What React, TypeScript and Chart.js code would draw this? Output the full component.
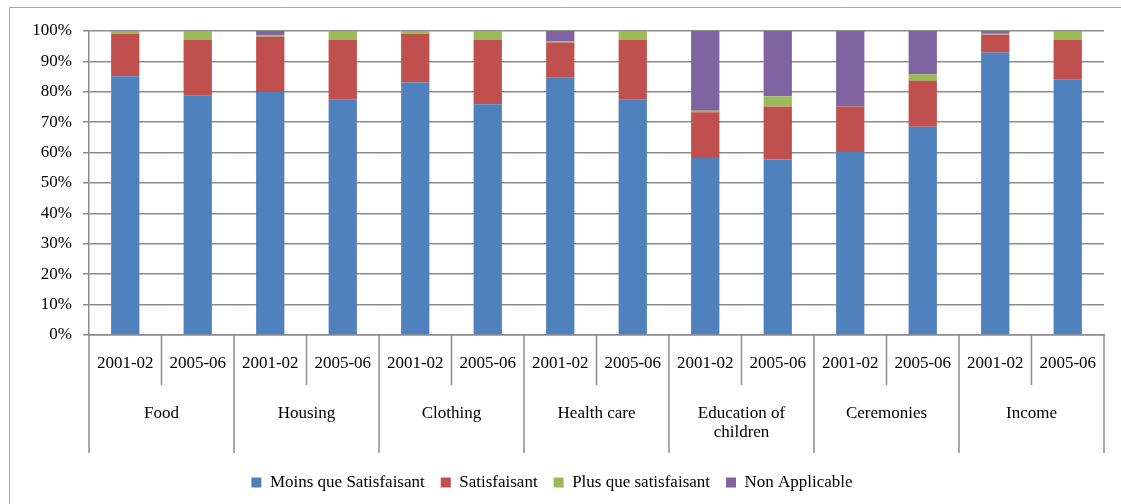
import React, { useEffect, useRef } from "react";
import { Chart, registerables } from "chart.js";

Chart.register(...registerables);

const years = ["2001-02", "2005-06", "2001-02", "2005-06", "2001-02", "2005-06", "2001-02", "2005-06", "2001-02", "2005-06", "2001-02", "2005-06", "2001-02", "2005-06"];
const groups: (string | string[])[] = ["Food", "Housing", "Clothing", "Health care", ["Education of", "children"], "Ceremonies", "Income"];

const moinsQueSatisfaisant = [85.1, 78.9, 79.9, 77.4, 83.1, 75.9, 84.6, 77.4, 58.2, 57.7, 60.2, 68.5, 92.9, 84.1];
const satisfaisant = [14.0, 18.1, 18.2, 19.6, 16.0, 21.1, 11.6, 19.6, 15.1, 17.5, 15.0, 15.1, 5.9, 12.9];
const plusQueSatisfaisant = [0.9, 3.0, 0.6, 3.0, 0.9, 3.0, 0.5, 3.0, 0.5, 3.3, 0, 2.2, 0.3, 3.0];
const nonApplicable = [0, 0, 1.3, 0, 0, 0, 3.3, 0, 26.2, 21.5, 24.8, 14.2, 0.9, 0];

const seriesNames = ["Moins que Satisfaisant", "Satisfaisant", "Plus que satisfaisant", "Non Applicable"];
const seriesColors = ["#4F81BD", "#C0504D", "#9BBB59", "#8064A2"];

const FONT = "'Liberation Serif', 'Times New Roman', serif";
const AXIS_COLOR = "#8c8c8c";

const xAxisPlugin = {
  id: "multiLevelX",
  beforeDraw(chart: any) {
    const ctx = chart.ctx;
    ctx.save();
    ctx.strokeStyle = "#a6a6a6";
    ctx.lineWidth = 1;
    ctx.beginPath();
    ctx.moveTo(9.5, 504);
    ctx.lineTo(9.5, 7.5);
    ctx.lineTo(1121, 7.5);
    ctx.stroke();
    ctx.restore();
  },
  afterDraw(chart: any) {
    const ctx = chart.ctx;
    const x = chart.scales.x;
    const area = chart.chartArea;
    const n = years.length;
    const step = (x.getPixelForValue(1) - x.getPixelForValue(0));
    const base = area.bottom;
    ctx.save();
    ctx.strokeStyle = AXIS_COLOR;
    ctx.lineWidth = 1.5;
    for (let i = 0; i <= n; i++) {
      const px = x.getPixelForValue(0) - step / 2 + i * step;
      const end = i % 2 === 0 ? base + 118 : base + 50;
      ctx.beginPath();
      ctx.moveTo(px, base);
      ctx.lineTo(px, end);
      ctx.stroke();
    }
    ctx.fillStyle = "#000";
    ctx.font = `17px ${FONT}`;
    ctx.textAlign = "center";
    ctx.textBaseline = "middle";
    for (let i = 0; i < n; i++) {
      ctx.fillText(years[i], x.getPixelForValue(i), base + 29);
    }
    for (let g = 0; g < groups.length; g++) {
      const cx = (x.getPixelForValue(2 * g) + x.getPixelForValue(2 * g + 1)) / 2;
      const lines = Array.isArray(groups[g]) ? (groups[g] as string[]) : [groups[g] as string];
      lines.forEach((t, k) => {
        ctx.fillText(t, cx, base + 79 + k * 19);
      });
    }
    ctx.restore();
  },
};

export default function App() {
  const ref = useRef<HTMLCanvasElement>(null);
  useEffect(() => {
    document.body.style.margin = "0";
    const chart = new Chart(ref.current!, {
      type: "bar",
      data: {
        labels: years,
        datasets: [moinsQueSatisfaisant, satisfaisant, plusQueSatisfaisant, nonApplicable].map((d, i) => ({
          label: seriesNames[i],
          data: d,
          backgroundColor: seriesColors[i],
          borderWidth: 0,
          categoryPercentage: 1,
          barPercentage: 0.39,
        })),
      },
      options: {
        animation: false,
        responsive: false,
        layout: { padding: { left: 0, right: 17, top: 31, bottom: 3 } },
        plugins: {
          legend: {
            position: "bottom",
            labels: {
              font: { family: FONT, size: 17 },
              color: "#000",
              boxWidth: 10,
              boxHeight: 10,
              padding: 16,
            },
          },
          tooltip: { enabled: false },
        },
        scales: {
          x: {
            stacked: true,
            grid: { display: false },
            border: { display: true, color: AXIS_COLOR, width: 1.5 },
            ticks: { display: false },
            afterFit: (s: any) => {
              s.height = 123;
            },
          },
          y: {
            stacked: true,
            min: 0,
            max: 100,
            ticks: {
              stepSize: 10,
              callback: (v: any) => v + "%",
              font: { family: FONT, size: 17 },
              color: "#000",
              padding: 11,
            },
            grid: { color: AXIS_COLOR, lineWidth: 1.5, tickLength: 6 },
            border: { color: AXIS_COLOR, width: 1.5 },
            afterFit: (s: any) => {
              s.width = 89;
            },
          },
        },
      },
      plugins: [xAxisPlugin],
    });
    return () => chart.destroy();
  }, []);
  return (
    <div style={{ width: 1121, height: 504 }}>
      <canvas ref={ref} width={1121} height={504} />
    </div>
  );
}
